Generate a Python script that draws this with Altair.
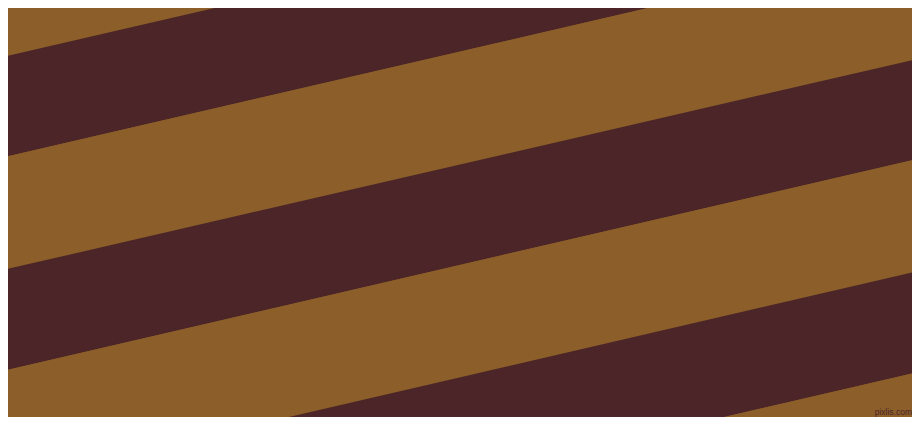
import altair as alt
import pandas as pd

# Stripe bands (pixel coordinates of the 920x425 image)
band_tone = ["brown", "maroon", "brown", "maroon", "brown", "maroon", "brown"]
left_top = [-55.0, 57.7, 158.0, 270.7, 371.5, 484.0, 584.5]      # at x = 0
left_bottom = [57.7, 158.0, 270.7, 371.5, 484.0, 584.5, 697.0]
right_top = [-268.0, -155.3, -55.0, 58.3, 158.3, 270.7, 371.7]   # at x = 920
right_bottom = [-155.3, -55.0, 58.3, 158.3, 270.7, 371.7, 484.0]
edge_x = [0, 920]

tone_names = ["brown", "maroon"]
tone_hex = ["#8B5E2A", "#4B2528"]

watermark_text = ["pixlis.com"]
watermark_x = [912]
watermark_y = [415]

rows = []
for i, tone in enumerate(band_tone):
    rows.append({"band": i, "tone": tone, "x": edge_x[0], "y": left_top[i], "y2": left_bottom[i]})
    rows.append({"band": i, "tone": tone, "x": edge_x[1], "y": right_top[i], "y2": right_bottom[i]})
bands = pd.DataFrame(rows)

wm = pd.DataFrame({"label": watermark_text, "x": watermark_x, "y": watermark_y})

# The page has an 8px margin, so the view shows the picture from (8, 8) to (912, 417)
xscale = alt.Scale(domain=[8, 912], nice=False, zero=False)
yscale = alt.Scale(domain=[8, 417], reverse=True, nice=False, zero=False)

stripes = alt.Chart(bands).mark_area(clip=True, interpolate="linear").encode(
    x=alt.X("x:Q", scale=xscale, axis=None),
    y=alt.Y("y:Q", scale=yscale, axis=None),
    y2="y2:Q",
    color=alt.Color("tone:N", scale=alt.Scale(domain=tone_names, range=tone_hex), legend=None),
    detail="band:N",
)

text = alt.Chart(wm).mark_text(
    align="right", baseline="alphabetic", font="Liberation Sans", fontSize=8.5, color="#4B2528"
).encode(
    x=alt.X("x:Q", scale=xscale, axis=None),
    y=alt.Y("y:Q", scale=yscale, axis=None),
    text="label:N",
)

chart = alt.layer(stripes, text).properties(
    width=904, height=409, background="#8B5E2A", padding=0,
    autosize=alt.AutoSizeParams(type="none"),
).configure_view(stroke=None, strokeWidth=0)

chart.save("out.html", embed_options={"renderer": "svg", "actions": False})
